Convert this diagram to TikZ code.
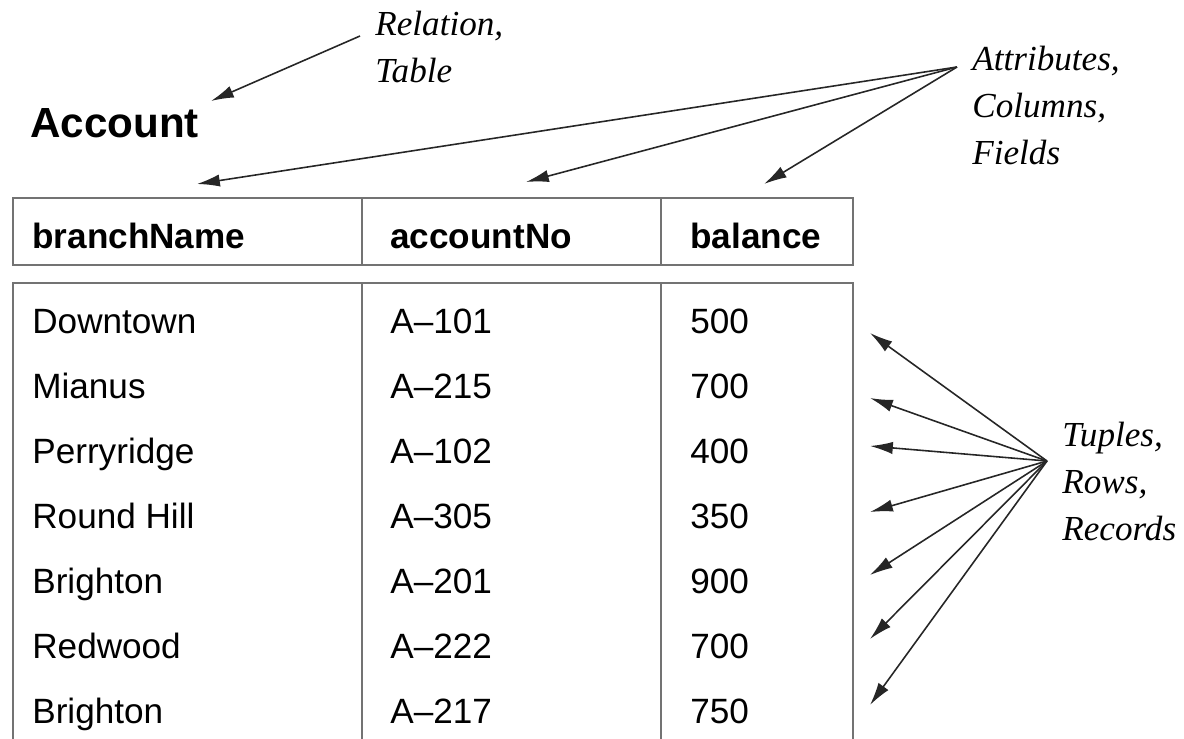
\documentclass[tikz,border=0pt]{standalone}
\usepackage{fontspec}
\setmainfont{Liberation Serif}
\setsansfont{Liberation Sans}
\usetikzlibrary{arrows.meta}
\tikzset{
	pointer/.style={-{Latex[length=13pt,width=7pt]}, line width=0.9pt, black!85},
	grid/.style={line width=1.1pt, black!55},
	cell/.style={anchor=base west, inner sep=0pt, font=\sffamily\fontsize{20}{24}\selectfont},
	headcell/.style={cell, font=\sffamily\bfseries\fontsize{20}{24}\selectfont},
	% multi-line tags sit on the baseline of their last line
	tag/.style={anchor=base west, inner sep=0pt, align=left, font=\itshape\fontsize{20}{26.5}\selectfont}
}

\begin{document}
\begin{tikzpicture}[x=0.02cm, y=-0.02cm]
	\useasboundingbox (0,0) rectangle (1184,738);

	% table name and labels
	\node[anchor=base west, inner sep=0pt, font=\sffamily\bfseries\fontsize{24}{28}\selectfont] (account) at (30,137) {Account};
	\node[tag] (relation) at (375,82) {Relation,\\Table};
	\node[tag] (attrib) at (972,164) {Attributes,\\Columns,\\Fields};
	\node[tag] (tuples) at (1062,540) {Tuples,\\Rows,\\Records};

	% header and body boxes
	\draw[grid] (13,198) rectangle (853,265);
	\draw[grid] (13,760) -- (13,283) -- (853,283) -- (853,760);
	\foreach \x in {362,661} {
		\draw[grid] (\x,198) -- (\x,265);
		\draw[grid] (\x,283) -- (\x,760);
	}

	\node[headcell] (hname) at (32,248) {branchName};
	\node[headcell] (hno) at (390,248) {accountNo};
	\node[headcell] (hbal) at (690,248) {balance};

	% rows
	\foreach \br/\no/\bal [count=\i] in {Downtown/A--101/500, Mianus/A--215/700, Perryridge/A--102/400,
		Round Hill/A--305/350, Brighton/A--201/900, Redwood/A--222/700, Brighton/A--217/750} {
		\node[cell] (name\i) at (32,{333+65*(\i-1)}) {\br};
		\node[cell] (no\i) at (390,{333+65*(\i-1)}) {\no};
		\node[cell] (bal\i) at (690,{333+65*(\i-1)}) {\bal};
	}

	% arrows
	\coordinate (relfrom) at (360,36);
	\coordinate (relto) at (211,101);
	\draw[pointer] (relfrom) -- (relto);

	\coordinate (attfrom) at (957,67);
	\coordinate (att1) at (197,184);
	\coordinate (att2) at (526,182);
	\coordinate (att3) at (764,184);
	\foreach \j in {1,2,3}
		\draw[pointer] (attfrom) -- (att\j);

	\coordinate (tupfrom) at (1047,461);
	\foreach \y [count=\j] in {333,398,446,512,575,639,705} {
		\coordinate (tup\j) at (870,\y);
		\draw[pointer] (tupfrom) -- (tup\j);
	}
\end{tikzpicture}
\end{document}
